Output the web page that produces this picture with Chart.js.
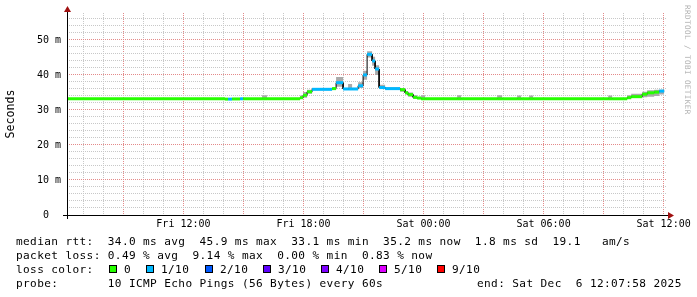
<!DOCTYPE html>
<html><head><meta charset="utf-8">
<script src="https://cdn.jsdelivr.net/npm/chart.js@4"></script>
<style>
html,body{margin:0;padding:0;background:#fff;}
#wrap{position:relative;width:697px;height:297px;overflow:hidden;background:#fff;}
#c{position:absolute;left:0;top:0;}
.txt{position:absolute;white-space:pre;font-family:'DejaVu Sans Mono',monospace;font-size:11.1px;letter-spacing:0.38px;line-height:13px;color:#000;}
.box{position:absolute;width:8px;height:8px;box-sizing:border-box;border:1px solid #000;}
#wm{position:absolute;left:692px;top:5px;transform:rotate(90deg);transform-origin:0 0;font-family:'DejaVu Sans Mono',monospace;font-size:7.6px;letter-spacing:0.42px;line-height:9px;color:#b0b0b0;white-space:pre;}
</style></head>
<body>
<div id="wrap">
<canvas id="c" width="697" height="297"></canvas>
<div id="wm">RRDTOOL / TOBI OETIKER</div>
</div>
<script>
// ---- data (hours since Fri 00:00, values in ms) ----
const xMin = 6.18, xMax = 36.17, yMax = 57.7;
const segStart = [6.18, 14.08, 14.23, 14.43, 14.83, 14.98, 15.93, 16.18, 17.83, 17.98,
  18.18, 18.43, 19.43, 19.63, 19.98, 20.23, 20.43, 20.73, 20.98, 21.18,
  21.43, 21.58, 21.78, 22.08, 22.83, 23.08, 23.23, 23.48, 23.68, 23.88,
  24.08, 25.68, 25.88, 27.68, 27.93, 28.68, 28.88, 29.28, 29.48, 33.23,
  33.43, 34.18, 34.38, 34.93, 35.18, 35.53, 35.78];
const endTime = 36.03;
const medianRtt = [33.2, 33.1, 33.1, 33.15, 33.2, 33.2, 33.2, 33.2, 33.5, 34.2,
  35.2, 35.9, 36.1, 37.8, 36.0, 36.0, 36.0, 36.9, 40.0, 45.9,
  44.0, 41.7, 36.4, 36.1, 35.8, 34.9, 34.4, 33.6, 33.4, 33.2,
  33.2, 33.2, 33.2, 33.2, 33.2, 33.2, 33.2, 33.2, 33.2, 33.2,
  33.2, 33.5, 33.8, 34.5, 34.9, 35.1, 35.4];
const lossLevel = [0, 0, 1, 0, 1, 0, 0, 0, 0, 0,
  0, 1, 0, 1, 1, 1, 1, 1, 1, 1,
  1, 1, 1, 1, 0, 0, 0, 0, 0, 0,
  0, 0, 0, 0, 0, 0, 0, 0, 0, 0,
  0, 0, 0, 0, 0, 0, 1];
const smokeLow = [33.0, 32.9, 32.9, 33.0, 33.0, 33.0, 33.0, 33.0, 33.2, 33.5,
  34.6, 35.6, 35.8, 36.6, 35.7, 35.8, 35.7, 36.3, 38.6, 45.0,
  42.6, 40.0, 36.0, 35.8, 35.2, 34.4, 33.8, 33.2, 33.1, 33.0,
  33.0, 33.0, 33.0, 33.0, 33.0, 33.0, 33.0, 33.0, 33.0, 33.0,
  33.0, 33.2, 33.4, 33.6, 33.8, 34.0, 34.4];
const smokeHigh = [33.4, 33.3, 33.3, 33.3, 33.4, 33.4, 34.2, 33.4, 34.1, 35.1,
  35.8, 36.2, 36.4, 39.4, 36.3, 37.4, 36.3, 37.9, 41.2, 46.8,
  45.2, 42.8, 37.2, 36.4, 36.2, 35.4, 35.0, 34.2, 33.8, 34.2,
  33.4, 34.2, 33.4, 34.2, 33.4, 34.1, 33.4, 34.1, 33.4, 34.1,
  33.4, 34.2, 34.6, 35.2, 35.6, 35.8, 35.8];
const lossColors = ['#26ff00', '#00b8ff', '#0059ff', '#5e00ff', '#7e00ff', '#dd00ff', '#ff0000'];
const lossLabels = ['0', '1/10', '2/10', '3/10', '4/10', '5/10', '9/10'];
const xTickHours = [12, 18, 24, 30, 36];
const xTickLabels = ['Fri 12:00', 'Fri 18:00', 'Sat 00:00', 'Sat 06:00', 'Sat 12:00'];
const yTickValues = [0, 10, 20, 30, 40, 50];
const yTickLabels = ['0  ', '10 m', '20 m', '30 m', '40 m', '50 m'];
const legendRtt = 'median rtt:  34.0 ms avg  45.9 ms max  33.1 ms min  35.2 ms now  1.8 ms sd  19.1   am/s';
const legendLoss = 'packet loss: 0.49 % avg  9.14 % max  0.00 % min  0.83 % now';
const legendProbe = 'probe:       10 ICMP Echo Pings (56 Bytes) every 60s';
const legendEnd = 'end: Sat Dec  6 12:07:58 2025';

// ---- styles ----
const smokeColor = '#aaaaaa';
const minorGrid = '#c8c8c8';
const majorGrid = '#e48a8a';
const arrowColor = '#a01010';
const tickFont = { family: "'DejaVu Sans Mono', monospace", size: 10 };

function steps(vals) {
  const pts = [];
  for (let i = 0; i < segStart.length; i++) {
    const next = i + 1 < segStart.length ? segStart[i + 1] : endTime;
    pts.push({ x: segStart[i], y: vals[i] });
    pts.push({ x: next, y: vals[i] });
  }
  return pts;
}

const axesPlugin = {
  id: 'rrdAxes',
  afterDraw(chart) {
    const ctx = chart.ctx, xs = chart.scales.x, ys = chart.scales.y;
    const y0 = Math.round(ys.getPixelForValue(0)) + 0.5;
    const x0 = Math.round(xs.left) + 0.5;
    const x1 = xs.right, yT = ys.top;
    ctx.save();
    ctx.strokeStyle = '#000'; ctx.lineWidth = 1;
    ctx.beginPath(); ctx.moveTo(x0 - 4.5, y0); ctx.lineTo(x1 + 2, y0); ctx.stroke();
    ctx.beginPath(); ctx.moveTo(x0, y0 + 3.5); ctx.lineTo(x0, yT - 2); ctx.stroke();
    ctx.fillStyle = arrowColor;
    ctx.beginPath(); ctx.moveTo(x1 + 1, y0 - 3.5); ctx.lineTo(x1 + 7, y0); ctx.lineTo(x1 + 1, y0 + 3.5); ctx.closePath(); ctx.fill();
    ctx.beginPath(); ctx.moveTo(x0 - 3.5, yT - 1); ctx.lineTo(x0, yT - 7); ctx.lineTo(x0 + 3.5, yT - 1); ctx.closePath(); ctx.fill();
    ctx.restore();
  }
};

new Chart(document.getElementById('c'), {
  type: 'line',
  data: {
    datasets: [
      { data: steps(smokeLow), borderWidth: 0, borderColor: 'rgba(0,0,0,0)', pointRadius: 0, fill: false, order: 3 },
      { data: steps(smokeHigh), borderWidth: 0, borderColor: 'rgba(0,0,0,0)', pointRadius: 0, fill: '-1', backgroundColor: smokeColor, order: 2 },
      { data: steps(medianRtt), borderWidth: 1, borderColor: '#000', pointRadius: 0, fill: false, order: 1 },
      { data: steps(medianRtt), borderWidth: 3, borderCapStyle: 'butt', pointRadius: 0, fill: false, order: 0,
        segment: { borderColor: c => (Math.abs(c.p0.x - c.p1.x) < 0.01) ? 'rgba(0,0,0,0)' : lossColors[lossLevel[Math.floor(c.p0DataIndex / 2)]] } }
    ]
  },
  options: {
    responsive: false, animation: false, events: [],
    layout: { padding: { left: 0, right: 30, top: 13, bottom: 62 } },
    plugins: { legend: { display: false }, tooltip: { enabled: false } },
    elements: { point: { radius: 0 }, line: { tension: 0 } },
    scales: {
      x: {
        type: 'linear', min: xMin, max: xMax,
        afterFit: s => { s.height = 20; },
        border: { display: false, dash: [1, 1] },
        grid: { color: c => (c.tick && Math.round(c.tick.value) % 3 === 0) ? majorGrid : minorGrid, lineWidth: 1, drawTicks: false },
        ticks: { stepSize: 1, includeBounds: false, autoSkip: false, maxRotation: 0, padding: 3, font: tickFont, color: '#000',
          callback: v => { const i = xTickHours.indexOf(Math.round(v)); return (i >= 0 && Math.abs(v - xTickHours[i]) < 1e-6) ? xTickLabels[i] : ''; } }
      },
      y: {
        type: 'linear', min: 0, max: yMax,
        afterFit: s => { s.width = 67; },
        border: { display: false, dash: [1, 1] },
        grid: { color: c => (c.tick && Math.round(c.tick.value) % 10 === 0) ? majorGrid : minorGrid, lineWidth: 1, drawTicks: false },
        ticks: { stepSize: 2, includeBounds: false, autoSkip: false, padding: 6, font: tickFont, color: '#000',
          callback: v => { const i = yTickValues.indexOf(Math.round(v)); return (i >= 0 && Math.abs(v - yTickValues[i]) < 1e-6) ? yTickLabels[i] : ''; } },
        title: { display: true, text: 'Seconds', color: '#000', font: { family: "'DejaVu Sans Mono', monospace", size: 11.6 }, padding: { top: 4, bottom: 0 } }
      }
    }
  },
  plugins: [axesPlugin]
});

// ---- legend (HTML text) ----
const wrap = document.getElementById('wrap');
function addText(str, left, top) {
  const d = document.createElement('div');
  d.className = 'txt'; d.textContent = str;
  d.style.left = left + 'px'; d.style.top = top + 'px';
  wrap.appendChild(d);
}
addText(legendRtt, 16, 235.4);
addText(legendLoss, 16, 249);
addText('loss color:', 16, 263.2);
const boxX = [108.5, 146, 204.5, 262.5, 320.5, 378.6, 436.6];
lossLabels.forEach((lab, i) => {
  const b = document.createElement('div');
  b.className = 'box'; b.style.background = lossColors[i];
  b.style.left = Math.round(boxX[i]) + 'px'; b.style.top = '265px';
  wrap.appendChild(b);
  addText(lab, Math.round(boxX[i]) + 15, 263.2);
});
addText(legendProbe, 16, 276.7);
addText(legendEnd, 477, 276.7);
</script>
</body></html>
